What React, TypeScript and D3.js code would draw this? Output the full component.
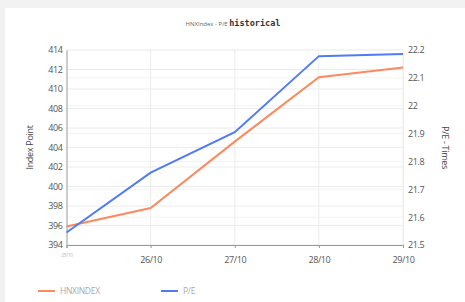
import React, { useEffect, useRef } from "react";
import * as d3 from "d3";

const dates = ["25/10", "26/10", "27/10", "28/10", "29/10"];
const hnxIndex = [395.9, 397.8, 404.6, 411.2, 412.2];
const peValues = [21.545, 21.76, 21.905, 22.178, 22.186];
const leftTicks = [394, 396, 398, 400, 402, 404, 406, 408, 410, 412, 414];
const rightTicks = [21.5, 21.6, 21.7, 21.8, 21.9, 22, 22.1, 22.2];

const ORANGE = "#fb8a5e";
const BLUE = "#4f7bf7";

const App = () => {
  const ref = useRef<SVGSVGElement>(null);

  useEffect(() => {
    const svg = d3.select(ref.current);
    svg.selectAll("*").remove();
    const width = 465;
    const height = 302;
    const margin = { top: 50, right: 62, bottom: 57, left: 66.5 };

    svg.append("rect").attr("width", width).attr("height", height).attr("fill", "#f2f2f2");
    svg.append("rect").attr("x", 5).attr("y", 8).attr("width", width - 5).attr("height", height - 8).attr("fill", "#fff");

    const x = d3
      .scalePoint()
      .domain(dates)
      .range([margin.left, width - margin.right]);
    const yL = d3.scaleLinear().domain([394, 414]).range([height - margin.bottom, margin.top]);
    const yR = d3.scaleLinear().domain([21.5, 22.2]).range([height - margin.bottom, margin.top]);

    const font = "'Open Sans', sans-serif";

    // grid
    svg
      .append("g")
      .selectAll("line")
      .data(leftTicks)
      .enter()
      .append("line")
      .attr("x1", margin.left)
      .attr("x2", width - margin.right)
      .attr("y1", (d) => yL(d))
      .attr("y2", (d) => yL(d))
      .attr("stroke", "#ececec");
    svg
      .append("g")
      .selectAll("line")
      .data(rightTicks)
      .enter()
      .append("line")
      .attr("x1", margin.left)
      .attr("x2", width - margin.right)
      .attr("y1", (d) => yR(d))
      .attr("y2", (d) => yR(d))
      .attr("stroke", "#f3f3f3");
    svg
      .append("g")
      .selectAll("line")
      .data(dates.slice(1))
      .enter()
      .append("line")
      .attr("x1", (d) => x(d)!)
      .attr("x2", (d) => x(d)!)
      .attr("y1", margin.top)
      .attr("y2", height - margin.bottom)
      .attr("stroke", "#ececec");

    // left axis
    const gL = svg
      .append("g")
      .attr("transform", `translate(${margin.left},0)`)
      .call(d3.axisLeft(yL).tickValues(leftTicks).tickSize(0).tickPadding(4));
    gL.select(".domain").attr("stroke", "#999");
    gL.selectAll("text").attr("font-family", font).attr("font-size", 9).attr("fill", "#555").attr("letter-spacing", -0.4);

    // right axis
    const gR = svg
      .append("g")
      .attr("transform", `translate(${width - margin.right},0)`)
      .call(d3.axisRight(yR).tickValues(rightTicks).tickSize(0).tickPadding(5).tickFormat(d3.format("")));
    gR.select(".domain").attr("stroke", "#eee");
    gR.selectAll("text").attr("font-family", font).attr("font-size", 9).attr("fill", "#555").attr("letter-spacing", -0.4);

    // bottom axis
    const gB = svg
      .append("g")
      .attr("transform", `translate(0,${height - margin.bottom})`)
      .call(d3.axisBottom(x).tickSize(3).tickPadding(9));
    gB.select(".domain").attr("stroke", "#999");
    gB.selectAll("line").attr("stroke", "#999");
    gB.selectAll("text")
      .attr("font-family", font)
      .attr("font-size", 9)
      .attr("fill", "#555")
      .attr("letter-spacing", -0.4);
    gB.selectAll("text")
      .filter((d) => d === dates[0])
      .attr("font-size", 5)
      .attr("fill", "#bbb")
      .attr("dy", "-0.1em");

    // lines
    const lineL = d3
      .line<number>()
      .x((_, i) => x(dates[i])!)
      .y((d) => yL(d));
    const lineR = d3
      .line<number>()
      .x((_, i) => x(dates[i])!)
      .y((d) => yR(d));
    svg.append("path").datum(hnxIndex).attr("d", lineL).attr("fill", "none").attr("stroke", ORANGE).attr("stroke-width", 2);
    svg.append("path").datum(peValues).attr("d", lineR).attr("fill", "none").attr("stroke", BLUE).attr("stroke-width", 2);

    // axis titles
    svg
      .append("text")
      .attr("transform", `translate(33,${(margin.top + height - margin.bottom) / 2}) rotate(-90)`)
      .attr("text-anchor", "middle")
      .attr("font-family", font)
      .attr("font-size", 9)
      .attr("fill", "#444")
      .attr("letter-spacing", -0.3)
      .text("Index Point");
    svg
      .append("text")
      .attr("transform", `translate(442,${(margin.top + height - margin.bottom) / 2}) rotate(90)`)
      .attr("text-anchor", "middle")
      .attr("font-family", font)
      .attr("font-size", 9)
      .attr("fill", "#444")
      .attr("letter-spacing", -0.3)
      .text("P/E - Times");

    // title
    const title = svg.append("text").attr("x", 233).attr("y", 26).attr("text-anchor", "middle");
    title.append("tspan").attr("font-family", font).attr("font-size", 6).attr("fill", "#666").text("HNXIndex - P/E ");
    title
      .append("tspan")
      .attr("font-family", "'DejaVu Sans Mono', monospace")
      .attr("font-size", 8.5)
      .attr("font-weight", "bold")
      .attr("fill", "#333")
      .text("historical");

    // legend
    const legend = [
      { name: "HNXINDEX", color: ORANGE, x: 38 },
      { name: "P/E", color: BLUE, x: 161 },
    ];
    const lg = svg.append("g").selectAll("g").data(legend).enter().append("g");
    lg.append("line")
      .attr("x1", (d) => d.x)
      .attr("x2", (d) => d.x + 17)
      .attr("y1", 291)
      .attr("y2", 291)
      .attr("stroke", (d) => d.color)
      .attr("stroke-width", 2);
    lg.append("text")
      .attr("x", (d) => d.x + 22)
      .attr("y", 294)
      .attr("font-family", font)
      .attr("font-size", 8.5)
      .attr("fill", "#aaa")
      .attr("letter-spacing", -0.3)
      .text((d) => d.name);
  }, []);

  return <svg ref={ref} width={465} height={302} style={{ position: "absolute", left: 0, top: 0 }}></svg>;
};

export default App;
